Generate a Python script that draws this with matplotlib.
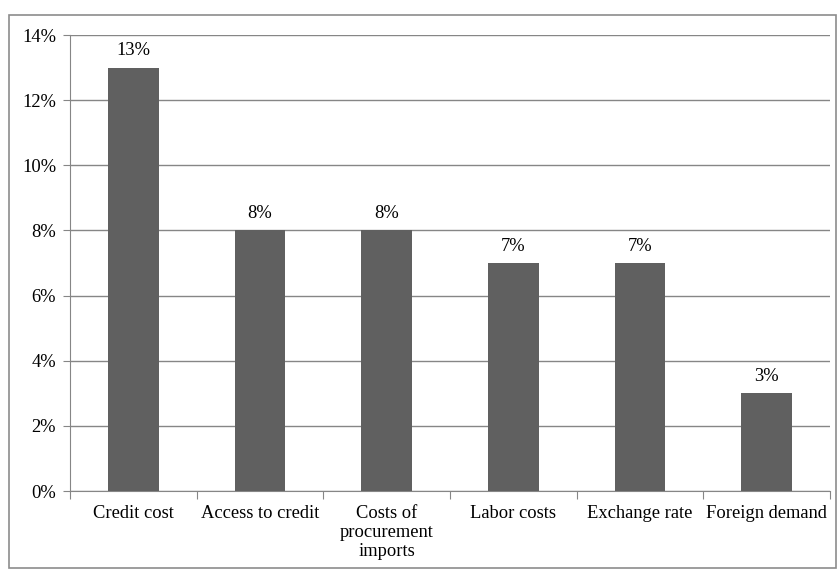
import matplotlib.pyplot as plt
from matplotlib.patches import Rectangle
from matplotlib.ticker import FuncFormatter

categories = ['Credit cost', 'Access to credit', 'Costs of\nprocurement\nimports',
              'Labor costs', 'Exchange rate', 'Foreign demand']
values = [13, 8, 8, 7, 7, 3]

plt.rcParams['font.family'] = ['Liberation Serif', 'DejaVu Serif']
FS = 13.3

W, H = 839, 569
fig = plt.figure(figsize=(W / 100, H / 100), dpi=100)

# outer frame like the spreadsheet chart area
fig.patches.append(Rectangle((9 / W, 1 / H), (836 - 9) / W, (554 - 1) / H,
                             transform=fig.transFigure, fill=False,
                             edgecolor='#8c8c8c', linewidth=1.2))

ax = fig.add_axes([70 / W, 1 - 491 / H, (830 - 70) / W, (491 - 35) / H])
x = range(len(categories))
ax.bar(x, values, width=0.4, color='#606060', zorder=3)

for xi, v in zip(x, values):
    ax.text(xi, v + 0.25, f'{v}%', ha='center', va='bottom', fontsize=FS)

ax.set_xlim(-0.5, len(categories) - 0.5)
ax.set_ylim(0, 14)
ax.set_yticks(range(0, 15, 2))
ax.yaxis.set_major_formatter(FuncFormatter(lambda v, p: f'{v:.0f}%'))
ax.yaxis.grid(True, color='#868686', linewidth=1, zorder=0)

ax.set_xticks([i - 0.5 for i in range(len(categories) + 1)], minor=False)
ax.set_xticklabels([])
ax.set_xticks(list(x), minor=True)
ax.set_xticklabels(categories, minor=True, fontsize=FS, va='top', linespacing=1.15)
ax.tick_params(axis='x', which='minor', length=0, pad=10)
ax.tick_params(axis='x', which='major', length=6, color='#868686', direction='out')
ax.tick_params(axis='y', length=5, color='#868686', labelsize=FS, pad=5)

for s in ['top', 'right']:
    ax.spines[s].set_visible(False)
for s in ['left', 'bottom']:
    ax.spines[s].set_color('#868686')

fig.savefig('out.png', dpi=100)
